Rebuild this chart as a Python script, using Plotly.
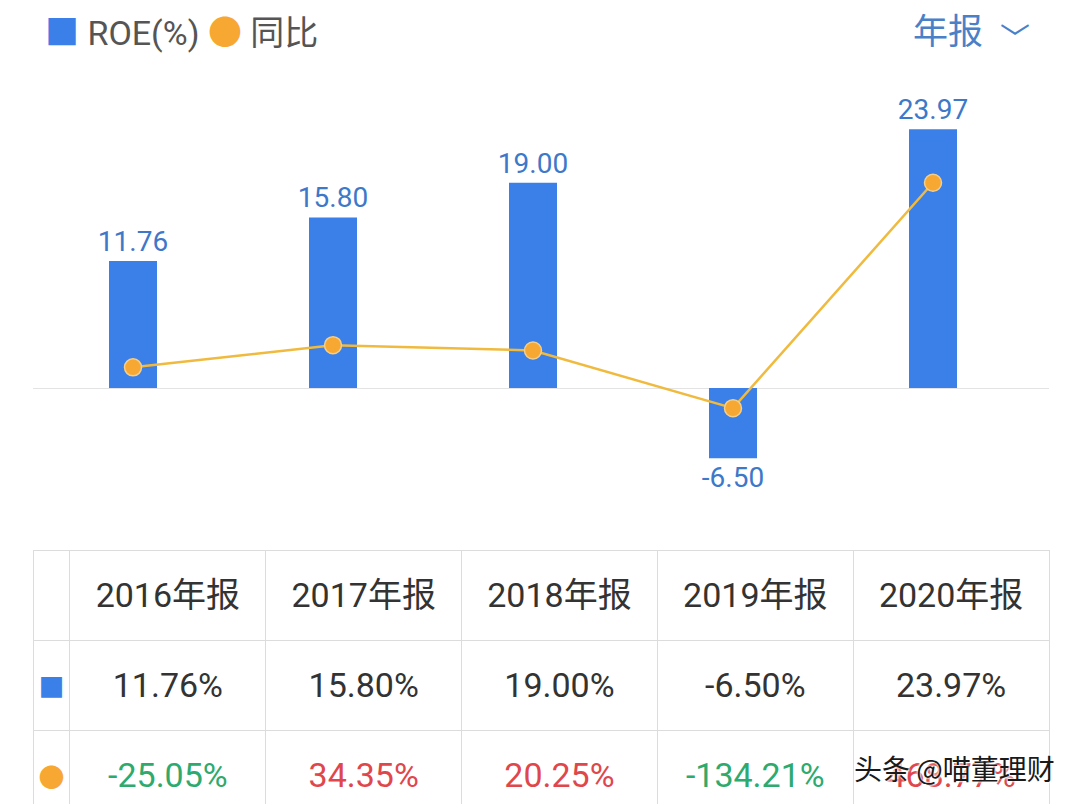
import plotly.graph_objects as go

years = ["2016年报", "2017年报", "2018年报", "2019年报", "2020年报"]
roe = [11.76, 15.80, 19.00, -6.50, 23.97]
yoy = [-25.05, 34.35, 20.25, -134.21, 468.77]

BLUE = "#3B7FE8"
ORANGE = "#F7A833"
LINE = "#F0BA3E"
GREEN = "#2EAA6E"
RED = "#E0474C"
FONT = "Roboto, 'Noto Sans CJK SC', sans-serif"

# page body has an 8px margin, so the figure is a bit smaller than the window
W, H = 1072, 796
OFF = 8


def px(x):
    return (x - OFF) / W


def py(y):
    return 1 - (y - OFF) / H


fig = go.Figure()

# bars - ROE
fig.add_trace(go.Bar(
    x=list(range(len(years))), y=roe, width=0.24,
    marker=dict(color=BLUE, line=dict(width=0)),
    text=[f"{v:.2f}" for v in roe], textposition="outside",
    textfont=dict(size=28, color="#3D78C9", family=FONT),
    constraintext="none", cliponaxis=False, showlegend=False, hoverinfo="skip",
))

# line - 同比, own scale
fig.add_trace(go.Scatter(
    x=list(range(len(years))), y=yoy, yaxis="y2", mode="lines+markers",
    line=dict(color=LINE, width=2.5),
    marker=dict(color=ORANGE, size=17, line=dict(color="#F3CF8A", width=1.5)),
    showlegend=False, hoverinfo="skip",
))


# table below; plotly tables top-align text, so a white dot on a first
# small line plus breaks pushes the real text to the middle of the cell
def cell(t, size=34):
    return ("<span style='color:white'>.</span><br><br>"
            f"<span style='font-size:{size}px'>{t}</span>")


roe_txt = [f"{v:.2f}%" for v in roe]
yoy_txt = [f"{v:.2f}%" for v in yoy]
yoy_col = [GREEN if v < 0 else RED for v in yoy]

cells = [[cell("■", 26), cell("●", 26)]] + \
        [[cell(roe_txt[i]), cell(yoy_txt[i])] for i in range(len(years))]
cell_colors = [[BLUE, ORANGE]] + [["#333333", yoy_col[i]] for i in range(len(years))]

fig.add_trace(go.Table(
    domain=dict(x=[px(33), px(1049)], y=[0, py(550)]),
    columnwidth=[37] + [196] * len(years),
    header=dict(values=[""] + [cell(y) for y in years], height=90, align="center",
                fill_color="white", line=dict(color="#DCDCDC", width=1),
                font=dict(size=14, color="#333333", family=FONT)),
    cells=dict(values=cells, height=90, align="center",
               fill_color="white", line=dict(color="#DCDCDC", width=1),
               font=dict(size=14, color=cell_colors, family=FONT)),
))

fig.update_layout(
    width=W, height=H, autosize=False,
    margin=dict(l=0, r=0, t=0, b=0),
    paper_bgcolor="white", plot_bgcolor="white",
    hovermode=False, dragmode=False,
    xaxis=dict(domain=[px(33), px(1049)], range=[-0.5, 4.58], visible=False),
    yaxis=dict(domain=[py(500), py(100)], range=[-10.37, 26.67],
               showgrid=False, showticklabels=False,
               zeroline=True, zerolinecolor="#E3E3E3", zerolinewidth=1),
    yaxis2=dict(overlaying="y", range=[-379.9, 690.2], visible=False),
    annotations=[
        dict(x=px(43), y=py(33), xref="paper", yref="paper",
             xanchor="left", yanchor="middle", showarrow=False,
             text=f"<span style='color:{BLUE}'>■</span> ROE(%) "
                  f"<span style='color:{ORANGE}'>●</span> 同比",
             font=dict(size=34, color="#555555", family=FONT)),
        dict(x=px(985), y=py(33), xref="paper", yref="paper",
             xanchor="right", yanchor="middle", showarrow=False, text="年报",
             font=dict(size=35, color="#4A80C8", family=FONT)),
        dict(x=px(1015), y=py(36), xref="paper", yref="paper",
             xanchor="center", yanchor="middle", showarrow=False, text="﹀",
             font=dict(size=30, color="#4A80C8", family="'Noto Sans CJK SC'")),
        dict(x=px(1057), y=py(768), xref="paper", yref="paper",
             xanchor="right", yanchor="middle", showarrow=False,
             text="头条 @喵董理财",
             font=dict(size=28, color="#1A1A1A", family="'Noto Sans CJK SC'",
                       shadow="1px 1px 2px white, -1px -1px 2px white")),
    ],
)

fig.write_html("out.html")
